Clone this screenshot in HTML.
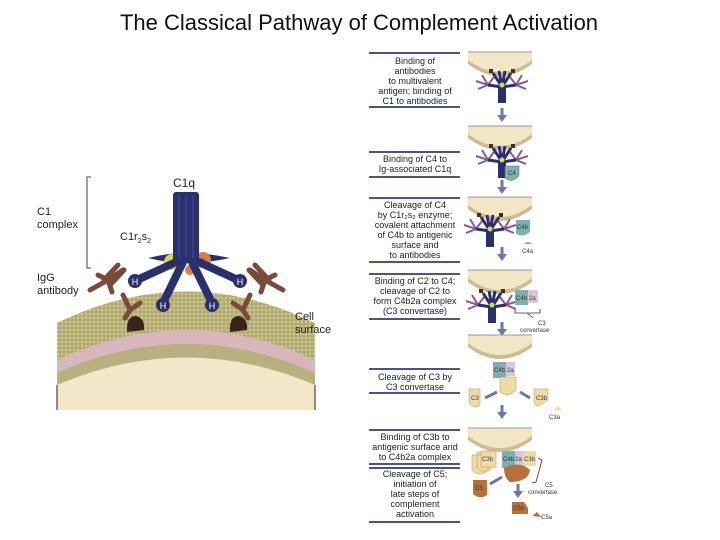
<!DOCTYPE html>
<html><head><meta charset="utf-8"><style>
body{margin:0;background:#fff;}
svg{display:block;font-family:"Liberation Sans",sans-serif;}
.t{font-size:9px;fill:#222;text-anchor:middle;}
.s{font-size:6px;fill:#333;}
</style></head><body>
<svg width="720" height="540" viewBox="0 0 720 540">
<defs>
<pattern id="dots" width="4" height="4" patternUnits="userSpaceOnUse"><rect width="4" height="4" fill="#b4ad72"/><circle cx="2" cy="2" r="1" fill="#d8d3a4"/></pattern>
<g id="dome">
<path d="M0,0 H64 V8 Q32,32 0,8 Z" fill="#f3e6c6"/>
<path d="M0,8 Q32,32 64,8 V12 Q32,36 0,12 Z" fill="#c9bd93"/>
<path d="M0,0 H64" stroke="#999" stroke-width="1"/>
</g>
<g id="mini">
<g stroke="#8a5a8a" stroke-width="2" fill="none">
<path d="M-26,-4 L-14,0 L-8,-8 M-20,-10 L-14,0 M-24,4 L-14,0"/>
<path d="M26,-4 L14,0 L8,-8 M20,-10 L14,0 M24,4 L14,0"/>
</g>
<g stroke="#2a2f6e" stroke-width="3" fill="none">
<path d="M0,2 L-9,-12 M0,2 L-3,-14 M0,2 L3,-14 M0,2 L9,-12 M0,2 L-14,0 M0,2 L14,0"/>
</g>
<rect x="-4" y="2" width="8" height="16" fill="#2a2f6e"/>
<circle cx="0" cy="0" r="2.5" fill="#e0d84a"/>
<rect x="-13" y="-16" width="4" height="4" fill="#4a2a1a"/>
<rect x="9" y="-16" width="4" height="4" fill="#4a2a1a"/>
</g>
<g id="arr"><rect x="-1.5" y="0" width="3" height="8" fill="#6a78a8"/><path d="M-5,7 L5,7 L0,14 Z" fill="#6a78a8"/></g>
</defs>

<text x="359" y="30" font-size="22" text-anchor="middle" fill="#111">The Classical Pathway of Complement Activation</text>

<!-- left cell -->
<rect x="57" y="330" width="258" height="80" fill="#f4e6c8"/>
<path d="M57,323 Q186,260 315,323 L315,410 L57,410 Z" fill="url(#dots)"/>
<path d="M57,360 Q186,300 315,360 L315,373 Q186,315 57,373 Z" fill="#d7b6bd"/>
<path d="M57,373 Q186,315 315,373 L315,385 Q186,330 57,385 Z" fill="#b9b080"/>
<path d="M57,385 Q186,330 315,385 L315,410 L57,410 Z" fill="#f4e6c8"/>
<path d="M57,385 V410 M315,385 V410" stroke="#222" stroke-width="1"/>

<!-- bracket -->
<path d="M91,177 H87 V268 H91" stroke="#444" fill="none" stroke-width="1"/>
<text x="37" y="215" font-size="11" fill="#222">C1</text>
<text x="37" y="228" font-size="11" fill="#222">complex</text>
<text x="173" y="187" font-size="12" fill="#222">C1q</text>
<text x="120" y="240" font-size="11" fill="#222">C1r<tspan font-size="7" dy="3">2</tspan><tspan dy="-3">s</tspan><tspan font-size="7" dy="3">2</tspan></text>
<text x="37" y="281" font-size="11" fill="#222">IgG</text>
<text x="37" y="294" font-size="11" fill="#222">antibody</text>
<text x="295" y="320" font-size="11" fill="#222">Cell</text>
<text x="295" y="333" font-size="11" fill="#222">surface</text>

<!-- antibodies -->
<g stroke="#7a4a3a" stroke-width="5" fill="none" stroke-linecap="round">
<path d="M90,290 L108,280 L123,270 M98,275 L108,280 L112,292"/>
<path d="M118,265 L104,280 M124,270 L110,285"/>
<path d="M123,295 L130,310 M130,310 L125,318 M130,310 L140,303"/>
<path d="M283,290 L265,280 L250,270 M275,275 L265,280 L261,292"/>
<path d="M255,265 L269,280 M249,270 L263,285"/>
<path d="M250,295 L243,310 M243,310 L248,318 M243,310 L233,303"/>
</g>
<path d="M127,332 Q126,316 136,316 Q145,318 144,330 Z" fill="#3a2418"/>
<path d="M230,332 Q229,316 239,316 Q248,318 247,330 Z" fill="#3a2418"/>

<!-- C1 -->
<path d="M148,258 Q186,248 230,258 Q186,268 148,258 Z" fill="#2a2f6e"/>
<circle cx="172" cy="262" r="8" fill="#e0d84a"/>
<circle cx="203" cy="260" r="8" fill="#d9803f"/>
<circle cx="190" cy="270" r="5" fill="#d9803f"/>
<g stroke="#2a2f6e" stroke-width="8" stroke-linecap="round" fill="none">
<path d="M185,258 L137,280 M185,258 L163,303 M190,258 L212,303 M190,258 L238,280"/>
</g>
<rect x="173" y="192" width="26" height="70" rx="3" fill="#2a2f6e"/>
<path d="M179,195 V258 M186,195 V258 M193,195 V258" stroke="#4a5090" stroke-width="1"/>
<g fill="#2a2f6e"><circle cx="135" cy="281" r="7"/><circle cx="163" cy="305" r="7"/><circle cx="212" cy="305" r="7"/><circle cx="240" cy="281" r="7"/></g>
<g font-size="9" fill="#fff" text-anchor="middle"><text x="135" y="285">H</text><text x="163" y="309">H</text><text x="212" y="309">H</text><text x="240" y="285">H</text></g>
<text x="172" y="265" font-size="8" text-anchor="middle" fill="#333">s</text>
<text x="203" y="263" font-size="8" text-anchor="middle" fill="#333">r</text>

<!-- right panel lines -->
<g stroke="#4a5580" stroke-width="2">
<path d="M369,53H460M369,107H460M369,152H460M369,177H460M369,198H460M369,262H460M369,274H460M369,319H460M369,369H460M369,393H460M369,430H460M369,464H460M369,468H460M369,522H460"/>
</g>
<g class="t">
<text x="415" y="64">Binding of</text><text x="415" y="74">antibodies</text><text x="415" y="84">to multivalent</text><text x="415" y="94">antigen; binding of</text><text x="415" y="104">C1 to antibodies</text>
<text x="415" y="162">Binding of C4 to</text><text x="415" y="172">Ig-associated C1q</text>
<text x="415" y="208">Cleavage of C4</text><text x="415" y="218">by C1r₂s₂ enzyme;</text><text x="415" y="228">covalent attachment</text><text x="415" y="238">of C4b to antigenic</text><text x="415" y="248">surface and</text><text x="415" y="258">to antibodies</text>
<text x="415" y="284">Binding of C2 to C4;</text><text x="415" y="294">cleavage of C2 to</text><text x="415" y="304">form C4b2a complex</text><text x="415" y="314">(C3 convertase)</text>
<text x="415" y="380">Cleavage of C3 by</text><text x="415" y="390">C3 convertase</text>
<text x="415" y="440">Binding of C3b to</text><text x="415" y="450">antigenic surface and</text><text x="415" y="460">to C4b2a complex</text>
<text x="415" y="477">Cleavage of C5;</text><text x="415" y="487">initiation of</text><text x="415" y="497">late steps of</text><text x="415" y="507">complement</text><text x="415" y="517">activation</text>
</g>

<!-- right images -->
<use href="#dome" x="468" y="52"/>
<use href="#mini" x="502" y="85"/>
<use href="#arr" x="502" y="108"/>
<use href="#dome" x="468" y="126"/>
<use href="#mini" x="502" y="160"/>
<path d="M505,166 H519 V176 Q512,184 505,178 Z" fill="#7fb0b0" stroke="#4a7a7a" stroke-width="0.5"/>
<text x="508" y="175" class="s">C4</text>
<use href="#arr" x="502" y="180"/>
<use href="#dome" x="468" y="197"/>
<use href="#mini" x="490" y="229"/>
<path d="M516,220 H530 V232 Q523,238 516,234 Z" fill="#7fb0b0"/>
<text x="517" y="229" class="s">C4b</text>
<path d="M524,244 q4,-4 8,0 z" fill="#7fb0b0"/><text x="522" y="253" class="s">C4a</text>
<use href="#arr" x="502" y="247"/>
<use href="#dome" x="468" y="270"/>
<use href="#mini" x="492" y="305"/>
<rect x="515" y="290" width="13" height="15" fill="#7fb0b0"/><rect x="528" y="290" width="10" height="13" fill="#d8c8dc"/>
<text x="516" y="300" class="s">C4b</text><text x="529" y="300" class="s">2a</text>
<path d="M515,309 V313 H540 V309 M527,313 L533,318" stroke="#333" fill="none" stroke-width="0.8"/>
<text x="538" y="325" class="s">C3</text><text x="520" y="332" class="s">convertase</text>
<use href="#arr" x="502" y="322"/>
<use href="#dome" x="468" y="335"/>
<rect x="493" y="362" width="13" height="16" fill="#7fb0b0"/><rect x="506" y="362" width="9" height="14" fill="#d8c8dc"/>
<text x="494" y="372" class="s">C4b</text><text x="507" y="372" class="s">2a</text>
<path d="M500,377 H516 V390 Q508,398 500,392 Z" fill="#f0dca0" stroke="#b09060" stroke-width="0.5"/>
<path d="M469,389 H480 V405 Q474,410 469,403 Z" fill="#f0dca0" stroke="#b09060" stroke-width="0.5"/><text x="471" y="400" class="s">C3</text>
<path d="M534,389 H548 V400 L542,404 Q536,409 534,402 Z" fill="#f0dca0" stroke="#b09060" stroke-width="0.5"/><text x="536" y="400" class="s">C3b</text>
<path d="M554,410 l4,-4 l4,5 z" fill="#f0dca0"/><text x="549" y="419" class="s">C3a</text>
<path d="M485,398 L497,392" stroke="#6a78a8" stroke-width="3"/><path d="M520,392 L530,398" stroke="#6a78a8" stroke-width="3"/>
<use href="#arr" x="502" y="405"/>
<use href="#dome" x="468" y="428"/>
<path d="M472,455 H488 V470 Q480,478 472,470 Z M477,452 H492 V468 Q485,475 477,468Z" fill="#f0dca0" stroke="#b09060" stroke-width="0.5"/>
<rect x="481" y="451" width="15" height="16" fill="#f0dca0" stroke="#b09060" stroke-width="0.5"/><text x="482" y="461" class="s">C3b</text>
<rect x="502" y="451" width="13" height="17" fill="#7fb0b0"/><rect x="515" y="451" width="8" height="15" fill="#d8c8dc"/><rect x="523" y="451" width="13" height="15" fill="#f0dca0"/>
<text x="503" y="461" class="s">C4b</text><text x="515" y="461" class="s">2a</text><text x="524" y="461" class="s">C3b</text>
<path d="M504,468 Q520,460 530,470 Q528,482 510,482 Q504,478 504,468 Z" fill="#b8703a"/>
<path d="M473,480 H487 V495 Q480,500 473,494 Z" fill="#b8703a"/><text x="475" y="490" class="s">C5</text>
<path d="M490,484 L502,477" stroke="#6a78a8" stroke-width="3"/>
<use href="#arr" x="518" y="484"/>
<path d="M512,502 H524 L528,508 V514 H512 Z" fill="#b8703a"/><text x="513" y="510" class="s">C5b</text>
<path d="M532,516 l5,-4 l4,5 z" fill="#b8703a"/><text x="541" y="519" class="s">C5a</text>
<path d="M538,458 L542,460 L536,482 L532,483" stroke="#333" fill="none" stroke-width="0.8"/>
<text x="545" y="487" class="s">C5</text><text x="528" y="494" class="s">convertase</text>
</svg>
</body></html>
